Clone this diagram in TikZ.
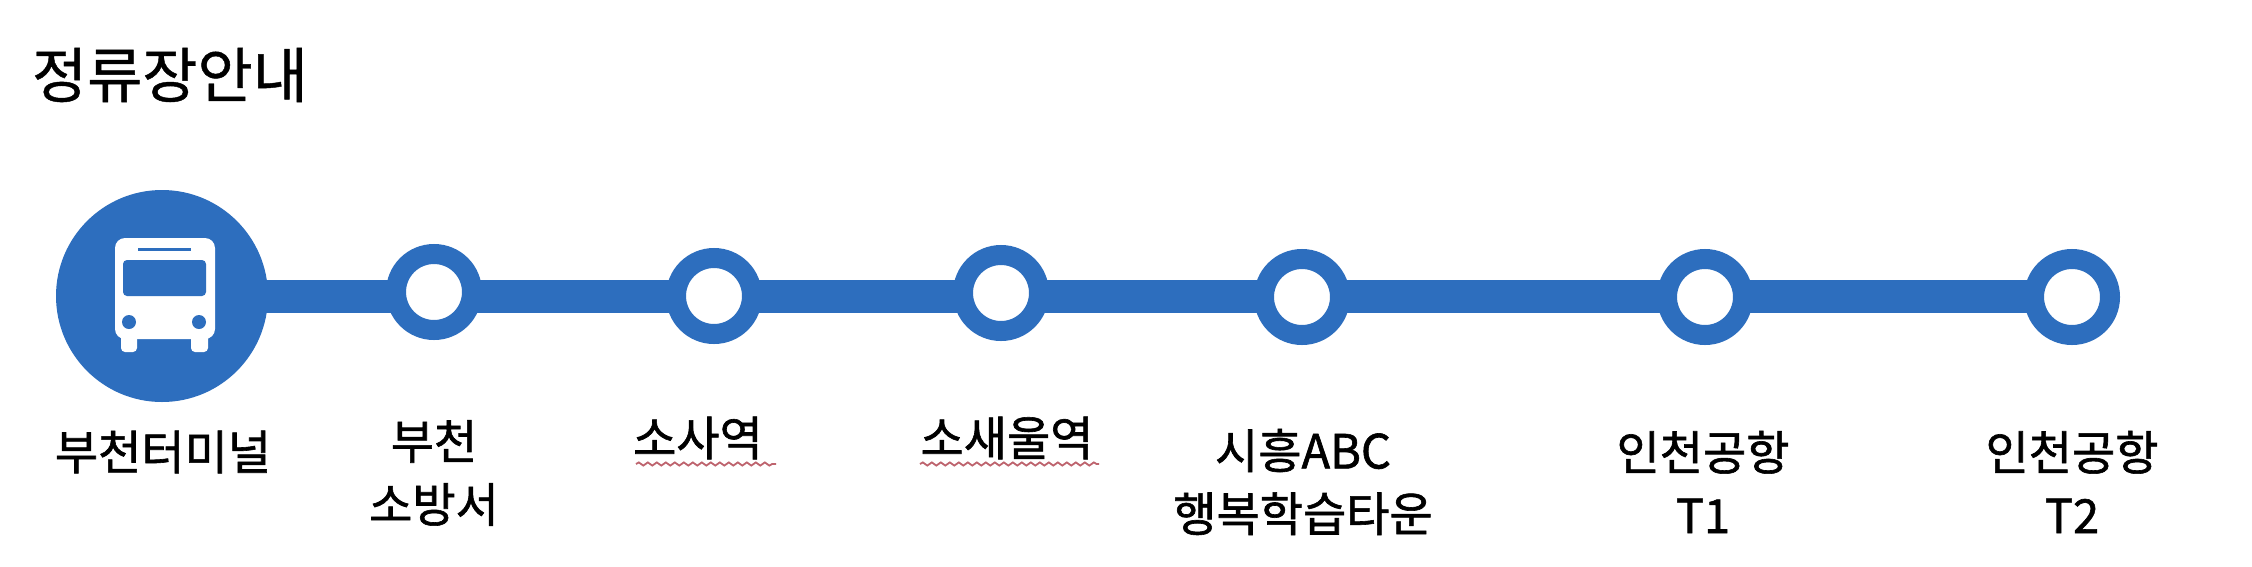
\documentclass[tikz,border=0pt]{standalone}
\usepackage{fontspec}
\setmainfont[FakeBold=1.3]{Noto Sans CJK KR}
\newfontfamily\titlefont[FakeBold=0.7]{Noto Sans CJK KR}
\usetikzlibrary{decorations.pathmorphing}
\definecolor{lineblue}{RGB}{45,110,190}
\definecolor{wavy}{RGB}{190,100,110}
\tikzset{
  x=1pt,y=-1pt,
  stop/.style={circle,draw=lineblue,line width=20pt,fill=white,minimum size=76pt,inner sep=0pt,outer sep=0pt},
  terminal/.style={circle,fill=lineblue,minimum size=212pt,inner sep=0pt,outer sep=0pt},
  route/.style={lineblue,line width=33pt},
  stoplabel/.style={align=center,font=\fontsize{47}{63}\selectfont,text=black,inner sep=0pt},
  title/.style={anchor=center,font=\titlefont\fontsize{60}{64}\selectfont,text=black,inner sep=0pt},
  squiggle/.style={wavy,line width=1.8pt,decorate,decoration={snake,amplitude=1.6pt,segment length=9pt}},
  busbody/.style={fill=white,draw=none},
  buspart/.style={fill=lineblue,draw=none}
}
\begin{document}
\begin{tikzpicture}
\useasboundingbox (0,0) rectangle (2252,566);
\fill[white] (0,0) rectangle (2252,566);
\node[title] (head) at (170,75) {정류장안내};
\node[terminal] (s0) at (162,296) {};
\node[stop] (s1) at (434,292) {};
\node[stop] (s2) at (714,296) {};
\node[stop] (s3) at (1001,293) {};
\node[stop] (s4) at (1302,297) {};
\node[stop] (s5) at (1705,297) {};
\node[stop] (s6) at (2072,297) {};
\draw[route] (s0.center |- 0,296) -- (s1.west |- 0,296);
\draw[route] (s1.east |- 0,296) -- (s2.west |- 0,296);
\draw[route] (s2.east |- 0,296) -- (s3.west |- 0,296);
\draw[route] (s3.east |- 0,296) -- (s4.west |- 0,296);
\draw[route] (s4.east |- 0,296) -- (s5.west |- 0,296);
\draw[route] (s5.east |- 0,296) -- (s6.west |- 0,296);
% bus icon
\fill[busbody,rounded corners=10pt] (115,238) rectangle (215,339);
\fill[busbody,rounded corners=4pt] (121,330) rectangle (137,352);
\fill[busbody,rounded corners=4pt] (191,330) rectangle (208,352);
\fill[buspart,rounded corners=4pt] (123,260) rectangle (206,296);
\fill[buspart] (138,248) rectangle (191,251);
\fill[buspart] (129,322) circle (7);
\fill[buspart] (199,322) circle (7);
% labels
\node[stoplabel] (l0) at (163,452) {부천터미널};
\node[stoplabel] (l1) at (434,473) {부천\\소방서};
\node[stoplabel] (l2) at (698,438) {소사역};
\node[stoplabel] (l3) at (1007,438) {소새울역};
\node[stoplabel] (l4) at (1303,482) {시흥ABC\\행복학습타운};
\node[stoplabel] (l5) at (1703,482) {인천공항\\T1};
\node[stoplabel] (l6) at (2072,482) {인천공항\\T2};
\coordinate (w2a) at (636,464); \coordinate (w2b) at (776,464);
\coordinate (w3a) at (920,464); \coordinate (w3b) at (1099,464);
\draw[squiggle] (w2a) -- (w2b);
\draw[squiggle] (w3a) -- (w3b);
\end{tikzpicture}
\end{document}
